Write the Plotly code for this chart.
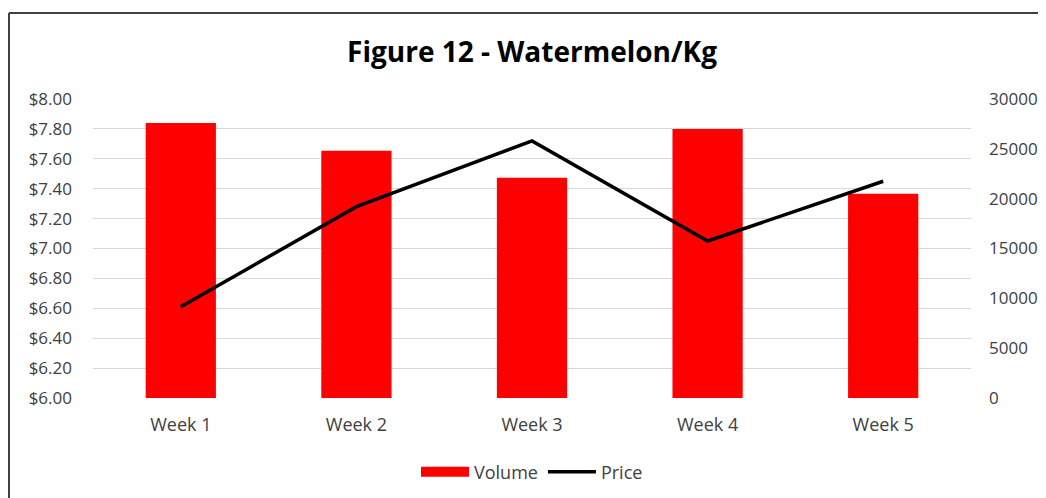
import plotly.graph_objects as go

weeks = ["Week 1", "Week 2", "Week 3", "Week 4", "Week 5"]
volume = [27600, 24800, 22100, 27000, 20500]
price = [6.61, 7.28, 7.72, 7.05, 7.45]
price_ticks = [6.0, 6.2, 6.4, 6.6, 6.8, 7.0, 7.2, 7.4, 7.6, 7.8, 8.0]
volume_ticks = [0, 5000, 10000, 15000, 20000, 25000, 30000]

OFF = 8  # page body margin
W, H = 1046 - OFF, 498 - OFF
L, T = 93 - OFF, 99 - OFF
PR, PB = 971 - OFF, 398 - OFF
R, B = W - PR, H - PB
pw, ph = PR - L, PB - T

def px(x):
    return (x - OFF - L) / pw

def py(y):
    return (PB - (y - OFF)) / ph

font = "Open Sans"
grey = "#404040"
red = "#FF0000"
fig = go.Figure()
# invisible carrier trace so the base (gridline) axis is drawn beneath the bars
fig.add_trace(go.Scatter(x=weeks, y=price, mode="lines", line=dict(color="rgba(0,0,0,0)", width=0),
                         showlegend=False, hoverinfo="skip", yaxis="y"))
fig.add_trace(go.Bar(x=weeks, y=volume, name="Volume", marker=dict(color=red, line=dict(width=0)),
                     width=0.4, yaxis="y2", showlegend=False, legendgroup="vol"))
# legend-only entry giving the wide red swatch
fig.add_trace(go.Scatter(x=[None], y=[None], name="Volume", mode="lines", legendgroup="vol",
                         line=dict(color=red, width=12), yaxis="y2"))
fig.add_trace(go.Scatter(x=weeks, y=price, name="Price", mode="lines",
                         line=dict(color="#000000", width=3.5), yaxis="y3"))

fig.update_layout(
    width=W, height=H,
    margin=dict(l=L, r=R, t=T, b=B, autoexpand=False),
    paper_bgcolor="white", plot_bgcolor="white",
    title=dict(text="<b>Figure 12 - Watermelon/Kg</b>", x=0.5, xref="paper", y=1 - (52 - OFF) / H,
               yanchor="middle", font=dict(family=font, size=28, color="#000000")),
    xaxis=dict(showgrid=False, showline=False, ticks="", ticklabelstandoff=14, automargin=False,
               tickfont=dict(family=font, size=18, color=grey)),
    yaxis=dict(range=[6, 8], tickvals=price_ticks, ticktext=[f"${v:.2f}" for v in price_ticks],
               showgrid=True, gridcolor="#D9D9D9", gridwidth=1, zeroline=False, showline=False,
               automargin=False, tickfont=dict(family=font, size=17, color=grey), ticklabelstandoff=20),
    yaxis2=dict(range=[0, 30000], tickvals=volume_ticks, ticktext=[str(v) for v in volume_ticks],
                overlaying="y", side="right", showgrid=False, zeroline=False, showline=False,
                automargin=False, tickfont=dict(family=font, size=17, color=grey), ticklabelstandoff=17),
    yaxis3=dict(range=[6, 8], overlaying="y", showgrid=False, zeroline=False, showline=False,
                showticklabels=False, automargin=False),
    legend=dict(orientation="h", x=0.5, xanchor="center", y=py(472), yanchor="middle",
                font=dict(family=font, size=18, color=grey), traceorder="normal", itemwidth=48),
    showlegend=True,
    shapes=[
        dict(type="line", xref="paper", yref="paper", x0=px(9), x1=px(1046), y0=py(13), y1=py(13),
             line=dict(color=grey, width=2)),
        dict(type="line", xref="paper", yref="paper", x0=px(9), x1=px(9), y0=py(13), y1=py(498),
             line=dict(color=grey, width=2)),
    ],
)

fig.write_html("out.html")
